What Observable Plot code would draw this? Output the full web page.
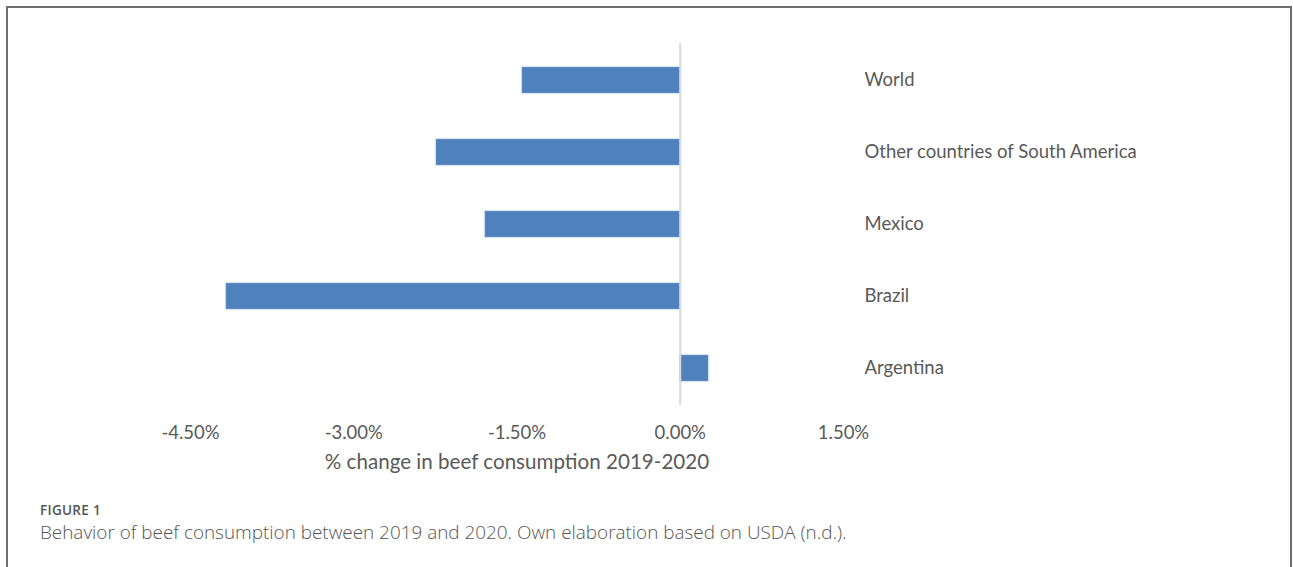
<!DOCTYPE html>
<html>
<head>
<meta charset="utf-8">
<script src="https://cdn.jsdelivr.net/npm/d3@7"></script>
<script src="https://cdn.jsdelivr.net/npm/@observablehq/plot@0.6"></script>
<style>
  html, body { margin: 0; padding: 0; background: #fff; width: 1293px; height: 567px; overflow: hidden; }
  #frame { position: absolute; left: 6px; top: 6px; width: 1286px; height: 620px; border: 2px solid #6e6e6e; border-bottom: none; box-sizing: border-box; }
  #chart { position: absolute; left: 0; top: 0; }
  #fig { position: absolute; left: 40px; top: 501px; font-family: "Open Sans", sans-serif; font-size: 13.5px; font-weight: 600; color: #555; letter-spacing: 0.3px; }
  #cap { position: absolute; left: 40px; top: 519px; font-family: "Open Sans", sans-serif; font-size: 18.9px; font-weight: 300; color: #555; }
</style>
</head>
<body>
<div id="frame"></div>
<div id="chart"></div>
<div id="fig">FIGURE 1</div>
<div id="cap">Behavior of beef consumption between 2019 and 2020. Own elaboration based on USDA (n.d.).</div>
<script>
const categories = ["World", "Other countries of South America", "Mexico", "Brazil", "Argentina"];
const values = [-1.45, -2.24, -1.79, -4.17, 0.26];
const tickValues = [-4.5, -3, -1.5, 0, 1.5];
const axisTitle = "% change in beef consumption 2019-2020";

const data = categories.map((c, i) => ({category: c, value: values[i]}));

const chart = Plot.plot({
  width: 1293,
  height: 490,
  marginTop: 43,
  marginBottom: 85,
  marginLeft: 190,
  marginRight: 450,
  style: {fontFamily: "Lato, sans-serif", color: "#595959", background: "transparent"},
  x: {domain: [-4.5, 1.5]},
  y: {domain: categories, paddingInner: 0.64, paddingOuter: 0.32},
  marks: [
    Plot.barX(data, {x: "value", y: "category", fill: "#4f81bd", stroke: "#7da2d3", strokeWidth: 0.6}),
    Plot.ruleX([0], {stroke: "#d9d9d9", strokeWidth: 2}),
    Plot.axisX({ticks: tickValues, tickSize: 0, tickPadding: 20, fontSize: 18.5,
      tickFormat: d => d.toFixed(2) + "%", label: null}),
    Plot.axisY({anchor: "right", tickSize: 0, tickPadding: 21, fontSize: 18.5, label: null}),
    Plot.text([axisTitle], {frameAnchor: "bottom", dy: 63, fontSize: 20.6, fill: "#595959"})
  ]
});
document.getElementById("chart").appendChild(chart);
</script>
</body>
</html>
